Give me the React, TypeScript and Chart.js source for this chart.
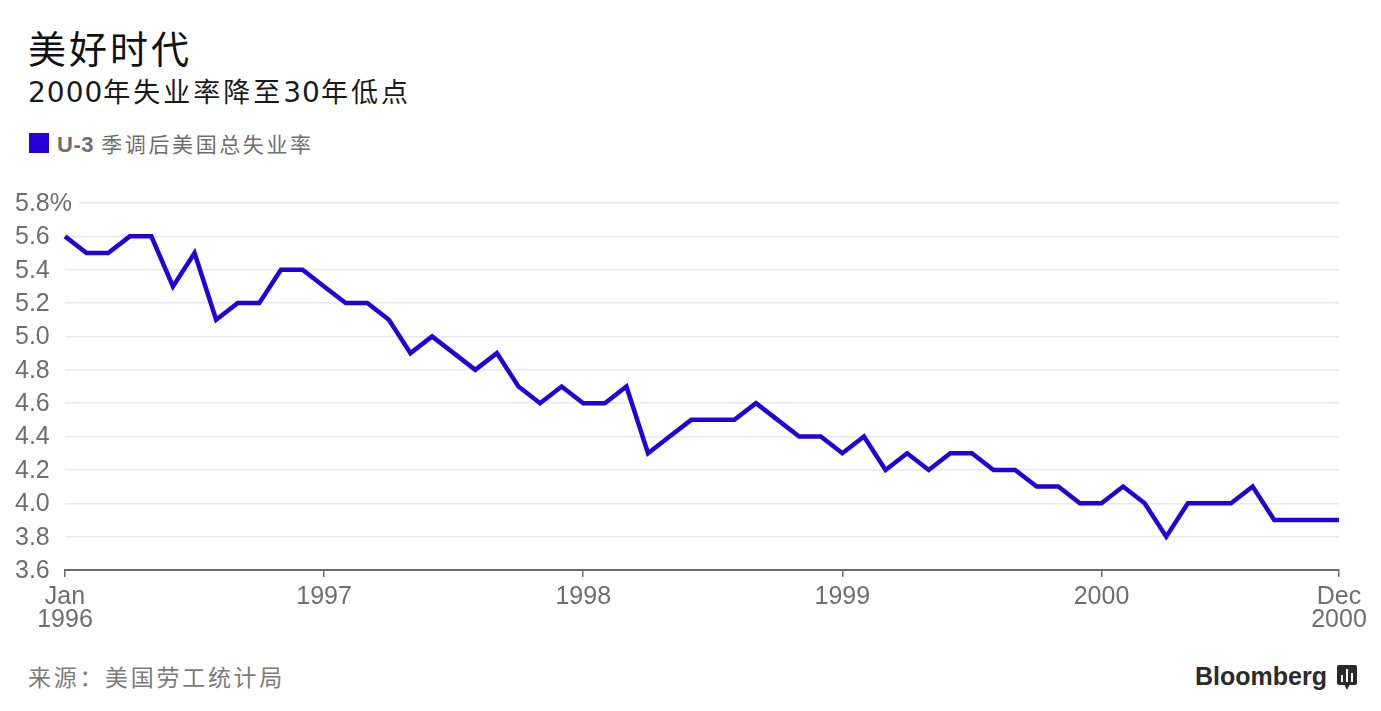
import React, { useEffect, useRef } from "react";
import { Chart, registerables } from "chart.js";

Chart.register(...registerables);

const years = ["1996", "1997", "1998", "1999", "2000"];
const monthNames = ["Jan", "Feb", "Mar", "Apr", "May", "Jun", "Jul", "Aug", "Sep", "Oct", "Nov", "Dec"];

const rate1996 = [5.6, 5.5, 5.5, 5.6, 5.6, 5.3, 5.5, 5.1, 5.2, 5.2, 5.4, 5.4];
const rate1997 = [5.3, 5.2, 5.2, 5.1, 4.9, 5.0, 4.9, 4.8, 4.9, 4.7, 4.6, 4.7];
const rate1998 = [4.6, 4.6, 4.7, 4.3, 4.4, 4.5, 4.5, 4.5, 4.6, 4.5, 4.4, 4.4];
const rate1999 = [4.3, 4.4, 4.2, 4.3, 4.2, 4.3, 4.3, 4.2, 4.2, 4.1, 4.1, 4.0];
const rate2000 = [4.0, 4.1, 4.0, 3.8, 4.0, 4.0, 4.0, 4.1, 3.9, 3.9, 3.9, 3.9];

const yTicks = [3.6, 3.8, 4.0, 4.2, 4.4, 4.6, 4.8, 5.0, 5.2, 5.4, 5.6, 5.8];

const categories: string[] = [];
years.forEach((y) => monthNames.forEach((m) => categories.push(`${m} ${y}`)));
const values = [...rate1996, ...rate1997, ...rate1998, ...rate1999, ...rate2000];

const LINE = "#2600d8";
const TICK_GRAY = "#6e6e6e";
const TICK_FONT = "'Liberation Sans', Arial, sans-serif";

function xLabel(i: number): string | string[] {
  const last = categories.length - 1;
  if (i === 0) return categories[0].split(" ");
  if (i === last) return categories[last].split(" ");
  if (i % 12 === 0) return categories[i].split(" ")[1];
  return "";
}

function yLabel(v: number): string {
  return Math.abs(v - 5.8) < 1e-6 ? v.toFixed(1) + "%" : v.toFixed(1);
}

const yLabelPlugin = {
  id: "yLabelPlugin",
  afterDraw(chart: any) {
    const scale = chart.scales.y;
    const ctx = chart.ctx;
    ctx.save();
    ctx.font = `25px ${TICK_FONT}`;
    ctx.textAlign = "left";
    ctx.textBaseline = "middle";
    const left = 15;
    for (const t of scale.ticks) {
      const py = scale.getPixelForValue(t.value);
      const text = yLabel(t.value);
      const w = ctx.measureText(text).width;
      if (left + w > chart.chartArea.left) {
        ctx.fillStyle = "#ffffff";
        ctx.fillRect(chart.chartArea.left - 1, py - 3, left + w + 8 - chart.chartArea.left, 6);
      }
      ctx.fillStyle = TICK_GRAY;
      ctx.fillText(text, left, py + 1);
    }
    ctx.restore();
  },
};

function ChartCanvas() {
  const ref = useRef<HTMLCanvasElement | null>(null);
  useEffect(() => {
    if (!ref.current) return;
    const chart = new Chart(ref.current, {
      type: "line",
      data: {
        labels: categories,
        datasets: [
          {
            data: values,
            borderColor: LINE,
            borderWidth: 4.5,
            pointRadius: 0,
            borderJoinStyle: "miter",
            tension: 0,
            fill: false,
          },
        ],
      },
      plugins: [yLabelPlugin],
      options: {
        animation: false,
        responsive: true,
        maintainAspectRatio: false,
        layout: { padding: { left: 15, right: 42, top: 18, bottom: 0 } },
        plugins: { legend: { display: false }, tooltip: { enabled: false } },
        scales: {
          x: {
            type: "category",
            offset: false,
            border: { display: true, color: "#6a6a6a", width: 2 },
            grid: {
              drawOnChartArea: false,
              drawTicks: true,
              tickLength: 7,
              lineWidth: 1.5,
              color: (ctx: any) => (xLabel(ctx.index) !== "" ? "#6a6a6a" : "rgba(0,0,0,0)"),
            },
            ticks: {
              autoSkip: false,
              maxRotation: 0,
              minRotation: 0,
              padding: 9,
              color: TICK_GRAY,
              font: { family: TICK_FONT, size: 25, lineHeight: 0.92 },
              callback: (_v: any, i: number) => xLabel(i),
            },
            afterFit: (scale: any) => {
              scale.height = 70;
            },
          },
          y: {
            min: 3.6,
            max: 5.8,
            afterBuildTicks: (scale: any) => {
              scale.ticks = yTicks.map((v) => ({ value: v }));
            },
            border: { display: false },
            grid: {
              drawTicks: false,
              color: (ctx: any) => (ctx.tick && Math.abs(ctx.tick.value - 3.6) < 1e-6 ? "rgba(0,0,0,0)" : "#e8e8ee"),
              lineWidth: 1.5,
            },
            ticks: { display: false },
            afterFit: (scale: any) => {
              scale.width = 50;
            },
          },
        },
      },
    });
    return () => chart.destroy();
  }, []);
  return <canvas ref={ref} />;
}

export default function App() {
  const cjk = "'Noto Sans CJK SC', 'Liberation Sans', sans-serif";
  const digits: React.CSSProperties = { fontFamily: "'DejaVu Sans', 'Liberation Sans', sans-serif", fontSize: 28, letterSpacing: 1 };
  return (
    <div
      style={{
        position: "fixed",
        left: 0,
        top: 0,
        width: 1381,
        height: 711,
        background: "#ffffff",
        overflow: "hidden",
        fontFamily: cjk,
      }}
    >
      <div style={{ position: "absolute", left: 28, top: 22, fontSize: 38, lineHeight: "50px", color: "#111", letterSpacing: 3 }}>
        美好时代
      </div>
      <div style={{ position: "absolute", left: 28, top: 74, fontSize: 27, lineHeight: "34px", color: "#1a1a1a", letterSpacing: 3 }}>
        <span style={digits}>2000</span>年失业率降至<span style={digits}>30</span>年低点
      </div>
      <div style={{ position: "absolute", left: 29, top: 133, width: 20, height: 20, background: LINE }} />
      <div style={{ position: "absolute", left: 57, top: 128, fontSize: 21, lineHeight: "30px", color: "#6e6e6e", letterSpacing: 2.6 }}>
        <span style={{ fontFamily: "'Liberation Sans', sans-serif", fontWeight: 700, fontSize: 22, letterSpacing: 0.5 }}>U-3</span> 季调后美国总失业率
      </div>
      <div style={{ position: "absolute", left: 0, top: 185, width: 1381, height: 455 }}>
        <ChartCanvas />
      </div>
      <div style={{ position: "absolute", left: 28, top: 661, fontSize: 23, lineHeight: "30px", color: "#7b7b7b", letterSpacing: 2.7 }}>
        来源：美国劳工统计局
      </div>
      <div
        style={{
          position: "absolute",
          left: 1195,
          top: 660,
          fontSize: 25,
          lineHeight: "32px",
          fontWeight: 700,
          color: "#2b2b2b",
          fontFamily: "'Liberation Sans', Arial, sans-serif",
          letterSpacing: 0,
        }}
      >
        Bloomberg
      </div>
      <svg style={{ position: "absolute", left: 1337, top: 665 }} width="20" height="26" viewBox="0 0 20 26">
        <path d="M2 0 H18 Q20 0 20 2 V18 Q20 20 18 20 H12.5 L10 25 L7.5 20 H2 Q0 20 0 18 V2 Q0 0 2 0 Z" fill="#2b2b2b" />
        <rect x="4" y="10" width="2" height="7" fill="#fff" />
        <rect x="9" y="4" width="2" height="13" fill="#fff" />
        <rect x="14" y="8" width="2" height="9" fill="#fff" />
      </svg>
    </div>
  );
}
